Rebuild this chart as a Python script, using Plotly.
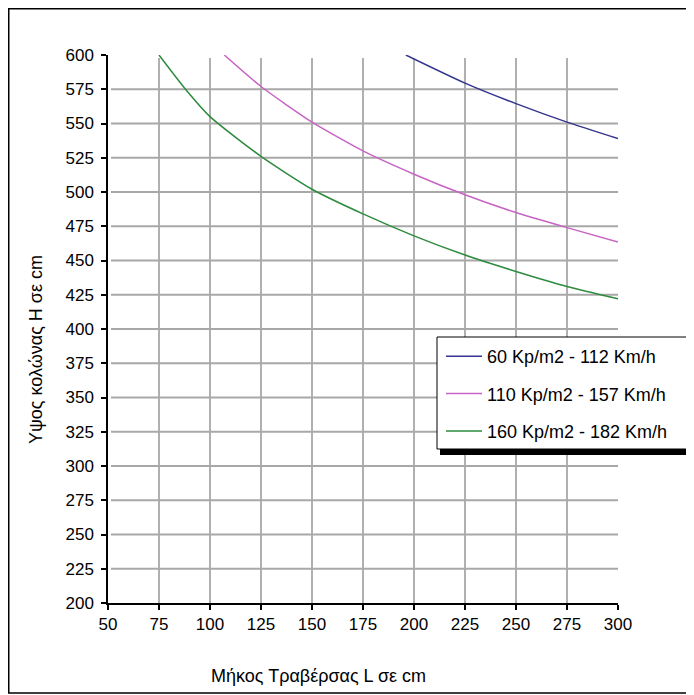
import plotly.graph_objects as go

# ---- data ----
series_names = ["60 Kp/m2 - 112 Km/h", "110 Kp/m2 - 157 Km/h", "160 Kp/m2 - 182 Km/h"]
series_colors = ["#34348f", "#c864c4", "#2e8b3e"]

L_60 = [196, 225, 250, 275, 300]
H_60 = [600, 579.5, 564.5, 551, 539]

L_110 = [107, 125, 150, 175, 200, 225, 250, 275, 300]
H_110 = [600, 577, 551, 530, 513, 498, 485, 474, 463.5]

L_160 = [75, 88, 100, 125, 150, 175, 200, 225, 250, 275, 300]
H_160 = [600, 575, 555, 526, 502, 484, 468, 454, 442, 431, 422]

x_ticks = [50, 75, 100, 125, 150, 175, 200, 225, 250, 275, 300]
y_ticks = [200, 225, 250, 275, 300, 325, 350, 375, 400, 425, 450, 475, 500, 525, 550, 575, 600]

x_title = "Μήκος Τραβέρσας L σε cm"
y_title = "Υψος κολώνας Η σε cm"

# ---- geometry (page offset of 8px from the html body margin) ----
OFF = 8
W, H = 686, 687
ML, MR, MT, MB = 100, 76, 47, 92
PW = W - ML - MR
PH = H - MT - MB


def px(x_page):
    return (x_page - OFF - ML) / PW


def py(y_page):
    return (H - MB - (y_page - OFF)) / PH


fig = go.Figure()
for Ls, Hs, name, col in zip([L_60, L_110, L_160], [H_60, H_110, H_160], series_names, series_colors):
    fig.add_trace(go.Scatter(x=Ls, y=Hs, mode="lines", name=name, legendgroup=name,
                             line=dict(color=col, width=1.5, shape="spline", smoothing=0.6)))

shapes = []
# grid lines (not at the outer edges)
for xv in x_ticks[1:-1]:
    shapes.append(dict(type="line", xref="x", yref="paper", x0=xv, x1=xv, y0=0, y1=py(58),
                       line=dict(color="#b0b0b0", width=2), layer="below"))
for yv in y_ticks[1:-1]:
    shapes.append(dict(type="line", xref="paper", yref="y", x0=px(111), x1=1, y0=yv, y1=yv,
                       line=dict(color="#a8a8a8", width=2), layer="below"))
# outer border
shapes.append(dict(type="rect", xref="paper", yref="paper", x0=px(8.75), x1=px(688), y0=py(693), y1=py(8.75),
                   line=dict(color="black", width=1.5), fillcolor="rgba(0,0,0,0)", layer="above"))
# legend shadow and box
shapes.append(dict(type="rect", xref="paper", yref="paper", x0=px(440), x1=px(690), y0=py(455), y1=py(449),
                   line=dict(width=0), fillcolor="black", layer="above"))
shapes.append(dict(type="rect", xref="paper", yref="paper", x0=px(437), x1=px(687), y0=py(449), y1=py(337),
                   line=dict(color="black", width=1), fillcolor="white", layer="above"))

fig.update_layout(
    width=W, height=H,
    margin=dict(l=ML, r=MR, t=MT, b=MB),
    paper_bgcolor="white", plot_bgcolor="white",
    font=dict(family="Liberation Sans, Arial, sans-serif", size=17, color="black"),
    showlegend=True,
    legend=dict(x=px(441), y=py(338), xanchor="left", yanchor="top",
                bgcolor="rgba(0,0,0,0)", borderwidth=0, tracegroupgap=11,
                font=dict(size=18), itemwidth=36),
    shapes=shapes,
    xaxis=dict(range=[50, 300], tickmode="array", tickvals=x_ticks, ticktext=[str(v) for v in x_ticks],
               showgrid=False, zeroline=False, showline=True, linecolor="black", linewidth=1.5,
               ticks="outside", ticklen=5, tickwidth=1.5, tickcolor="black", fixedrange=True,
               tickfont=dict(size=17)),
    yaxis=dict(range=[200, 600], tickmode="array", tickvals=y_ticks, ticktext=[str(v) for v in y_ticks],
               showgrid=False, zeroline=False, showline=True, linecolor="black", linewidth=1.5,
               ticks="outside", ticklen=5, tickwidth=1.5, tickcolor="black", fixedrange=True,
               tickfont=dict(size=17), ticklabelstandoff=4),
    annotations=[
        dict(text=x_title, xref="paper", yref="paper", x=px(318), y=py(676), showarrow=False,
             xanchor="center", yanchor="middle", font=dict(size=18)),
        dict(text=y_title, xref="paper", yref="paper", x=px(36), y=py(350), showarrow=False,
             xanchor="center", yanchor="middle", textangle=-90, font=dict(size=18)),
    ],
)

fig.write_html("out.html")
